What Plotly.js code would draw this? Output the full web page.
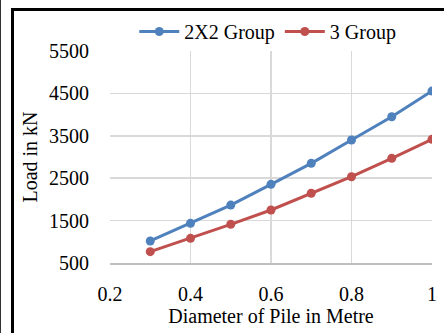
<!DOCTYPE html>
<html>
<head>
<meta charset="utf-8">
<script src="https://cdn.plot.ly/plotly-3.0.1.min.js"></script>
<style>
html,body{margin:0;padding:0;background:#fff;}
#wrap{position:relative;width:444px;height:333px;overflow:hidden;}
#chart{position:absolute;left:0;top:0;width:444px;height:333px;}
#frameL{position:absolute;left:11px;top:8px;width:3px;height:325px;background:#000;}
#frameT{position:absolute;left:11px;top:8px;width:433px;height:3px;background:#000;}
#edge{position:absolute;left:0;top:0;width:1px;height:333px;background:#333;}
</style>
</head>
<body>
<div id="wrap">
<div id="chart"></div>
<div id="frameL"></div>
<div id="frameT"></div>
<div id="edge"></div>
</div>
<script>
var diameters = [0.3, 0.4, 0.5, 0.6, 0.7, 0.8, 0.9, 1.0];
var group2x2 = [1020, 1435, 1865, 2355, 2850, 3400, 3950, 4555];
var group3 = [768, 1082, 1412, 1750, 2144, 2535, 2968, 3417];
var seriesNames = ["2X2 Group", "3 Group"];
var xTicks = [0.2, 0.4, 0.6, 0.8, 1];
var xTickText = ["0.2", "0.4", "0.6", "0.8", "1"];
var yTicks = [500, 1500, 2500, 3500, 4500, 5500];

var font = "Liberation Serif";
var f = {family: font, size: 20, color: "#000"};
var traces = [
  {x: diameters, y: group2x2, name: seriesNames[0], type: "scatter", mode: "lines+markers",
   line: {color: "#4F81BD", width: 3}, marker: {color: "#4F81BD", size: 9}},
  {x: diameters, y: group3, name: seriesNames[1], type: "scatter", mode: "lines+markers",
   line: {color: "#C0504D", width: 3}, marker: {color: "#C0504D", size: 9}}
];
var layout = {
  width: 444, height: 333,
  margin: {l: 110, r: 12, t: 51, b: 70},
  paper_bgcolor: "rgba(0,0,0,0)", plot_bgcolor: "#fff",
  font: f,
  showlegend: true,
  legend: {orientation: "h", x: 0.49, xanchor: "center", y: 1.0, yanchor: "bottom",
           font: f, itemwidth: 40, tracegroupgap: 0,
           bgcolor: "rgba(0,0,0,0)"},
  xaxis: {range: [0.2, 1.0], tickvals: xTicks, ticktext: xTickText,
          showgrid: true, gridcolor: "#d9d9d9", gridwidth: 1.5, zeroline: false,
          showline: true, linecolor: "#bfbfbf", linewidth: 2,
          ticks: "outside", ticklen: 12, tickcolor: "rgba(0,0,0,0)",
          tickfont: f,
          title: {text: "Diameter of Pile in Metre", font: f, standoff: 5}},
  yaxis: {range: [500, 5500], tickvals: yTicks,
          showgrid: true, gridcolor: "#d9d9d9", gridwidth: 1.5, zeroline: false,
          showline: false,
          ticks: "outside", ticklen: 16, tickcolor: "rgba(0,0,0,0)",
          tickfont: f,
          title: {text: "Load in kN", font: f, standoff: 6}}
};
Plotly.newPlot("chart", traces, layout, {displayModeBar: false, staticPlot: true});
</script>
</body>
</html>
